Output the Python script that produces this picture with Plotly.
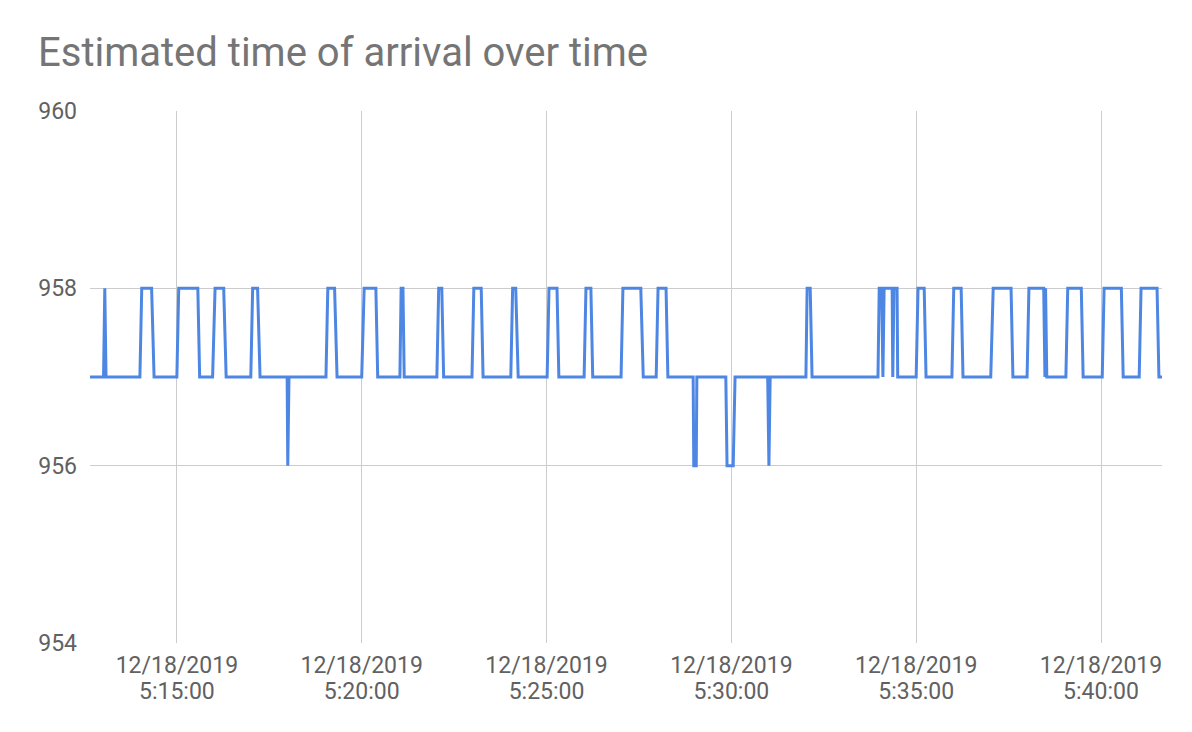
import plotly.graph_objects as go

# ---- data (12/18/2019, times of day) ----
day = "2019-12-18"
times = [
    "05:12:39", "05:13:01", "05:13:03", "05:13:05",
    "05:14:00", "05:14:03", "05:14:19", "05:14:23",
    "05:15:00", "05:15:03", "05:15:34", "05:15:37",
    "05:15:58", "05:16:02", "05:16:16", "05:16:20",
    "05:17:00", "05:17:03", "05:17:11", "05:17:15",
    "05:17:59", "05:18:00", "05:18:02",
    "05:19:02", "05:19:05", "05:19:16", "05:19:20",
    "05:20:00", "05:20:04", "05:20:23", "05:20:26",
    "05:21:02", "05:21:04", "05:21:07", "05:21:09",
    "05:22:02", "05:22:05", "05:22:10", "05:22:13",
    "05:22:59", "05:23:02", "05:23:14", "05:23:17",
    "05:24:02", "05:24:05", "05:24:10", "05:24:14",
    "05:25:01", "05:25:04", "05:25:17", "05:25:20",
    "05:26:01", "05:26:04", "05:26:12", "05:26:15",
    "05:27:01", "05:27:04", "05:27:33", "05:27:37",
    "05:27:58", "05:28:01", "05:28:14", "05:28:17",
    "05:28:58", "05:28:59", "05:29:03", "05:29:04",
    "05:29:51", "05:29:53", "05:30:03", "05:30:06",
    "05:30:59", "05:31:01", "05:31:03",
    "05:32:01", "05:32:03", "05:32:08", "05:32:11",
    "05:33:58", "05:34:00", "05:34:04", "05:34:06", "05:34:08",
    "05:34:21", "05:34:22", "05:34:24", "05:34:29", "05:34:30",
    "05:35:00", "05:35:03", "05:35:13", "05:35:16",
    "05:35:58", "05:36:01", "05:36:13", "05:36:16",
    "05:37:01", "05:37:05", "05:37:34", "05:37:37",
    "05:38:00", "05:38:03", "05:38:27", "05:38:29", "05:38:30", "05:38:32",
    "05:39:03", "05:39:06", "05:39:28", "05:39:31",
    "05:40:02", "05:40:05", "05:40:33", "05:40:36",
    "05:41:02", "05:41:05", "05:41:31", "05:41:34",
    "05:41:39",
]
eta = [
    957, 957, 958, 957,
    957, 958, 958, 957,
    957, 958, 958, 957,
    957, 958, 958, 957,
    957, 958, 958, 957,
    957, 956, 957,
    957, 958, 958, 957,
    957, 958, 958, 957,
    957, 958, 958, 957,
    957, 958, 958, 957,
    957, 958, 958, 957,
    957, 958, 958, 957,
    957, 958, 958, 957,
    957, 958, 958, 957,
    957, 958, 958, 957,
    957, 958, 958, 957,
    957, 956, 956, 957,
    957, 956, 956, 957,
    957, 956, 957,
    957, 958, 958, 957,
    957, 958, 958, 957, 958,
    958, 957, 958, 958, 957,
    957, 958, 958, 957,
    957, 958, 958, 957,
    957, 958, 958, 957,
    957, 958, 958, 957, 958, 957,
    957, 958, 958, 957,
    957, 958, 958, 957,
    957, 958, 958, 957,
    957,
]

tick_times = ["05:15:00", "05:20:00", "05:25:00", "05:30:00", "05:35:00", "05:40:00"]
tick_dates = ["12/18/2019"] * len(tick_times)
tick_clock = [t.lstrip("0") for t in tick_times]
y_ticks = [954, 956, 958, 960]

x = [f"{day} {t}" for t in times]
x_range = [f"{day} {times[0]}", f"{day} {times[-1]}"]
x_ticks = [f"{day} {t}" for t in tick_times]

grid = "#cccccc"
text_grey = "#616161"

fig = go.Figure()
fig.add_trace(go.Scatter(
    x=x, y=eta,
    mode="lines",
    line=dict(color="#4e86e4", width=3),
    hoverinfo="x+y",
    showlegend=False,
))
# invisible trace so the second (time-of-day) label row gets drawn
fig.add_trace(go.Scatter(
    x=x_range, y=[957, 957], xaxis="x2",
    mode="lines", line=dict(width=0), opacity=0,
    hoverinfo="skip", showlegend=False,
))

# page body has an 8px margin, so the figure is 8px smaller than the window
fig.update_layout(
    width=1184, height=724,
    paper_bgcolor="white", plot_bgcolor="white",
    margin=dict(l=82, r=30, t=103, b=89),
    font=dict(family="Roboto, Arial, sans-serif", color=text_grey, size=23),
    title=dict(
        text="Estimated time of arrival over time",
        font=dict(size=40, color="#757575"),
        x=30 / 1184, xanchor="left", xref="container",
        y=1 - 44 / 724, yanchor="middle", yref="container",
    ),
    xaxis=dict(
        range=x_range,
        tickvals=x_ticks, ticktext=tick_dates,
        showgrid=True, gridcolor=grid, gridwidth=1,
        showline=False, zeroline=False, ticks="",
        ticklabelstandoff=6,
        tickfont=dict(size=23, color=text_grey),
    ),
    xaxis2=dict(
        range=x_range, overlaying="x", side="bottom", anchor="y",
        tickvals=x_ticks, ticktext=tick_clock,
        showgrid=False, showline=False, zeroline=False, ticks="",
        ticklabelstandoff=32,
        tickfont=dict(size=23, color=text_grey),
    ),
    yaxis=dict(
        range=[954, 960],
        tickvals=y_ticks,
        showgrid=True, gridcolor=grid, gridwidth=1,
        showline=False, zeroline=False, ticks="",
        ticklabelstandoff=12,
        tickfont=dict(size=23, color=text_grey),
    ),
)

fig.write_html("out.html")
